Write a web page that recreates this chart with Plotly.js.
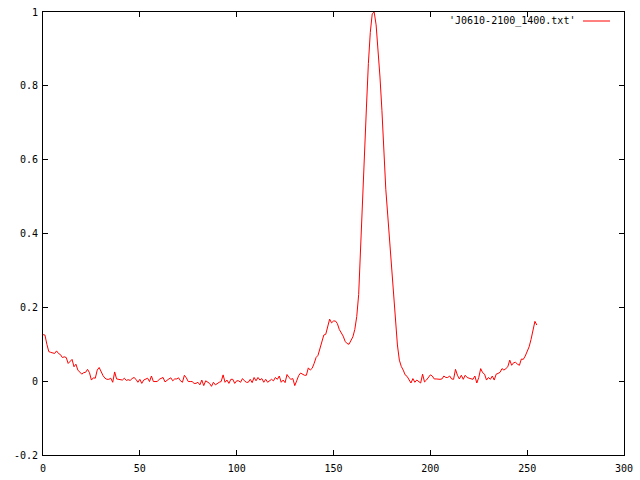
<!DOCTYPE html>
<html>
<head>
<meta charset="utf-8">
<script src="https://cdn.plot.ly/plotly-3.0.1.min.js"></script>
<style>html,body{margin:0;padding:0;background:#fff;}#chart{width:640px;height:480px;}</style>
</head>
<body>
<div id="chart"></div>
<script>
const seriesName = "'J0610-2100_1400.txt'";
const yValues = [
0.126,0.125,0.10,0.08,0.078,0.077,0.075,0.082,0.075,0.072,
0.064,0.066,0.064,0.048,0.055,0.059,0.039,0.046,0.03,0.023,
0.019,0.023,0.024,0.032,0.023,0.003,0.009,0.008,0.03,0.037,
0.025,0.015,0.008,0.005,0.005,0.008,-0.003,0.025,0.006,0.005,
0.005,0.003,0.008,0.002,0.004,0.002,0.007,0.01,0.005,-0.003,
0.005,-0.006,0.003,0.005,0.008,-0.001,0.014,-0.001,0,-0.001,
0.005,0.008,0.01,-0.002,0.003,0.006,0.009,0.001,0.006,0.006,
0.009,0.001,-0.003,0.016,0.009,-0.001,-0.001,-0.001,-0.006,-0.006,
-0.003,-0.01,0.003,-0.012,0.001,-0.003,-0.006,-0.014,-0.003,-0.01,
-0.006,-0.003,-0.001,0.017,-0.003,0.003,-0.006,0.005,0.005,-0.006,
0.001,0.001,-0.003,0.007,0.001,-0.003,-0.003,0.005,-0.004,0.01,
0.001,0.01,0.003,0.007,-0.003,0.005,-0.003,0.001,0.005,0.001,
0.01,0.005,0.014,-0.003,0.003,-0.004,0.018,0.01,0.005,0.007,
-0.012,0.001,0.015,0.022,0.018,0.016,0.016,0.036,0.03,0.035,
0.048,0.064,0.07,0.089,0.107,0.125,0.127,0.152,0.168,0.158,
0.163,0.163,0.156,0.14,0.131,0.122,0.108,0.102,0.1,0.111,
0.12,0.14,0.175,0.235,0.35,0.48,0.61,0.74,0.86,0.945,
0.995,1.0,0.965,0.9,0.824,0.734,0.61,0.52,0.45,0.38,
0.315,0.23,0.16,0.098,0.057,0.04,0.03,0.017,0.013,0.005,
-0.005,0.007,-0.003,0.003,-0.001,-0.005,0.019,-0.002,0.003,0.012,
0.017,0.014,0.006,0.006,0.005,0.005,0.006,0.014,0.01,0.01,
0.014,0.006,0.005,0.032,0.016,0.006,0.016,0.005,0.016,0.01,
0.008,0.006,0.005,0.014,-0.005,0.01,0.034,0.023,0.019,0.003,
0.01,0.005,0.014,0.003,0.019,0.021,0.024,0.034,0.03,0.034,
0.039,0.057,0.043,0.05,0.051,0.046,0.043,0.06,0.059,0.068,
0.079,0.093,0.113,0.135,0.162,0.152
];
const xValues = yValues.map((_, i) => i);
const xTickVals = [0, 50, 100, 150, 200, 250, 300];
const xTickText = ['0', '50', '100', '150', '200', '250', '300'];
const yTickVals = [-0.2, 0, 0.2, 0.4, 0.6, 0.8, 1];
const yTickText = ['-0.2', '0', '0.2', '0.4', '0.6', '0.8', '1'];

const font = {family: 'DejaVu Sans Mono, monospace', size: 10, color: '#000'};
const L = 43, R = 16, T = 12, B = 25;
const plotW = 640 - L - R, plotH = 480 - T - B;
const px = v => (v - L) / plotW;
const py = v => (480 - B - v) / plotH;

const trace = {
  x: xValues, y: yValues, type: 'scatter', mode: 'lines',
  line: {color: '#ff0000', width: 1}, name: seriesName, hoverinfo: 'skip'
};
const axisCommon = {
  showgrid: false, zeroline: false, showline: true, linecolor: '#000', linewidth: 1,
  mirror: 'ticks', ticks: 'inside', ticklen: 5, tickcolor: '#000', tickwidth: 1,
  tickfont: font, tickmode: 'array'
};
const layout = {
  width: 640, height: 480,
  margin: {l: L, r: R, t: T, b: B, pad: 0},
  paper_bgcolor: '#fff', plot_bgcolor: '#fff',
  showlegend: false,
  font: font,
  xaxis: Object.assign({}, axisCommon, {range: [0, 300], tickvals: xTickVals, ticktext: xTickText, ticklabelstandoff: 4}),
  yaxis: Object.assign({}, axisCommon, {range: [-0.2, 1], tickvals: yTickVals, ticktext: yTickText, ticklabelstandoff: 2}),
  annotations: [{
    xref: 'paper', yref: 'paper', x: px(577), y: py(21), xanchor: 'right', yanchor: 'middle',
    text: seriesName, showarrow: false, font: font
  }],
  shapes: [{
    type: 'line', xref: 'paper', yref: 'paper', x0: px(583), x1: px(610), y0: py(21), y1: py(21),
    line: {color: '#ff0000', width: 1}
  }]
};
Plotly.newPlot('chart', [trace], layout, {staticPlot: true, displayModeBar: false});
</script>
</body>
</html>
